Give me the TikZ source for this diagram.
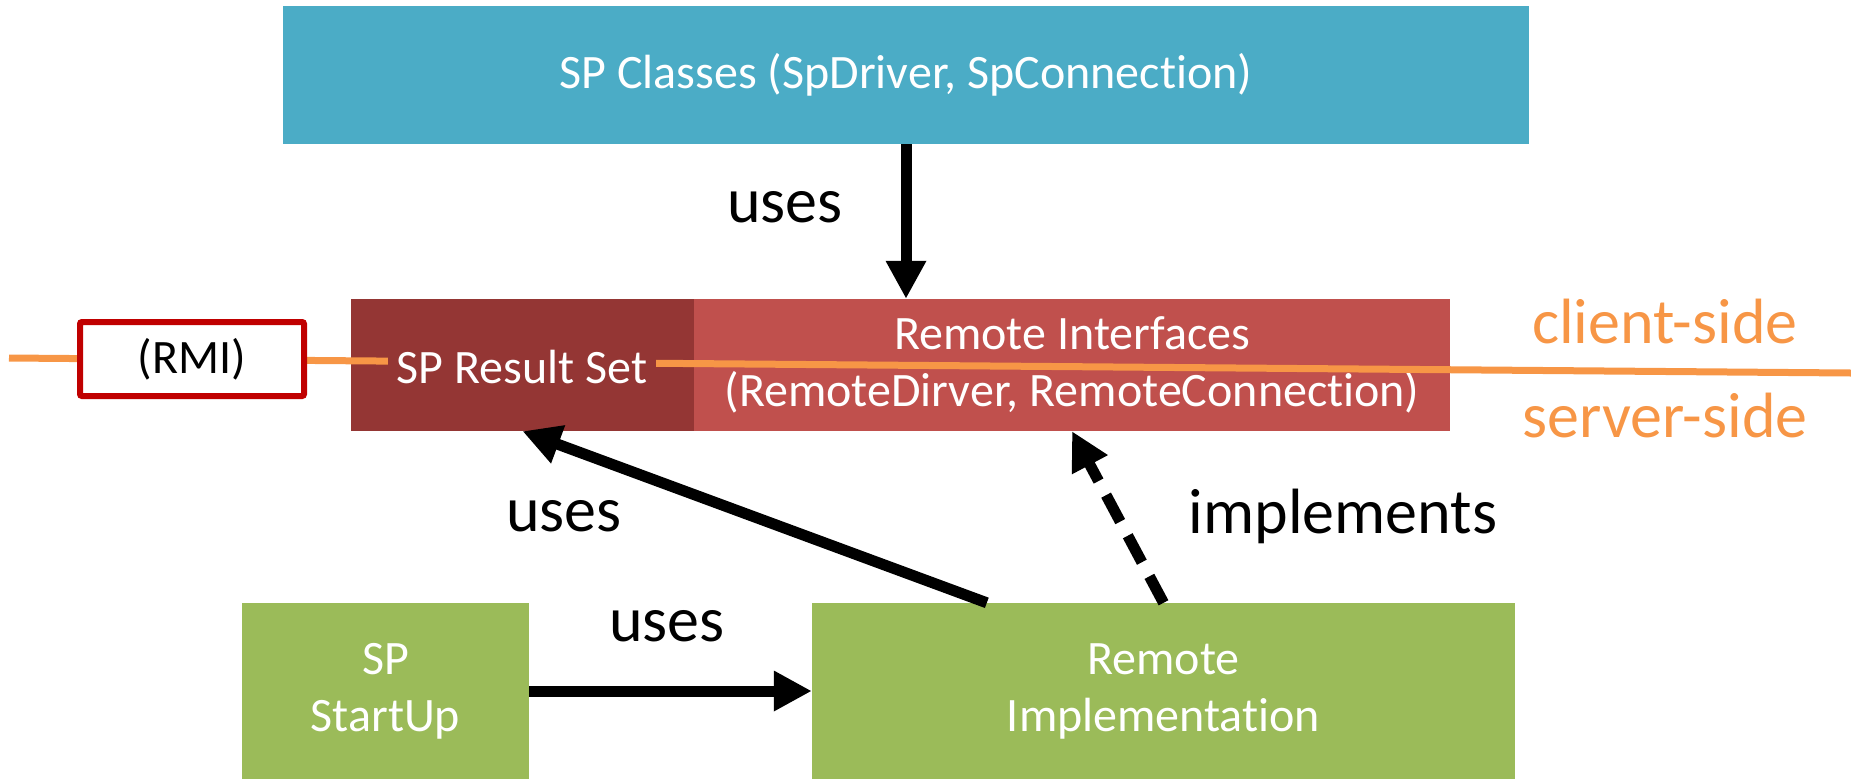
\documentclass[tikz,border=0pt]{standalone}
\usepackage{fontspec}
\setmainfont{Carlito}[RawFeature=-liga]
\usetikzlibrary{arrows.meta}
\definecolor{topblue}{HTML}{4BACC6}
\definecolor{darkred}{HTML}{943634}
\definecolor{lightred}{HTML}{C0504D}
\definecolor{sgreen}{HTML}{9BBB59}
\definecolor{sorange}{HTML}{F79646}
\definecolor{rmired}{HTML}{C00000}
\begin{document}
\begin{tikzpicture}[x=1pt,y=-1pt,
  box/.style={rectangle, inner sep=0pt, text=white, align=center,
    font=\fontsize{48}{57}\selectfont},
  arr/.style={line width=11pt, -{Triangle[length=38pt,width=38pt]}},
  lbl/.style={font=\fontsize{64}{70}\selectfont, inner sep=0pt},
  side/.style={font=\fontsize{64}{70}\selectfont, inner sep=0pt, text=sorange}]
\useasboundingbox (0,0) rectangle (1851,780);
% boxes
\node[box, fill=topblue, minimum width=1246pt, minimum height=138pt] (top) at (906,75) {SP Classes (SpDriver, SpConnection)};
\node[box, fill=darkred, minimum width=343pt, minimum height=132pt] (dark) at (522.5,365) {};
\node[box, fill=lightred, minimum width=756pt, minimum height=132pt] (light) at (1072,365) {Remote Interfaces\\(RemoteDirver, RemoteConnection)};
\node[box, fill=sgreen, minimum width=287pt, minimum height=176pt] (startup) at (385.5,691) {SP\\StartUp};
\node[box, fill=sgreen, minimum width=703pt, minimum height=176pt] (impl) at (1163.5,691) {Remote\\Implementation};
% orange dividing line
\coordinate (oL) at (9,358);
\coordinate (oR) at (1851,373);
\draw[sorange, line width=7pt] (oL) -- (oR);
\node[box, fill=darkred, inner xsep=9pt, inner ysep=4pt] (rs) at (522,367) {SP Result Set};
\node[rectangle, draw=rmired, line width=6pt, fill=white, rounded corners=2pt,
  minimum width=224pt, minimum height=74pt, inner sep=0pt,
  font=\fontsize{48}{57}\selectfont] (rmi) at (192,359) {(RMI)};
% side labels
\node[side] (client) at (1665,322) {client-side};
\node[side] (server) at (1665,416) {server-side};
% arrows
\draw[arr] (top.south) -- (top.south |- light.north);
\draw[arr] ([xshift=175pt]impl.north west) -- (dark.south);
\draw[arr, dash pattern=on 30pt off 16pt] (impl.north) -- (light.south);
\draw[arr] (startup.east) -- (impl.west);
% labels
\node[lbl] (u1) at (785,207) {uses};
\node[lbl] (u2) at (564,516) {uses};
\node[lbl] (u3) at (667,626) {uses};
\node[lbl] (im) at (1343,516) {implements};
\end{tikzpicture}
\end{document}
